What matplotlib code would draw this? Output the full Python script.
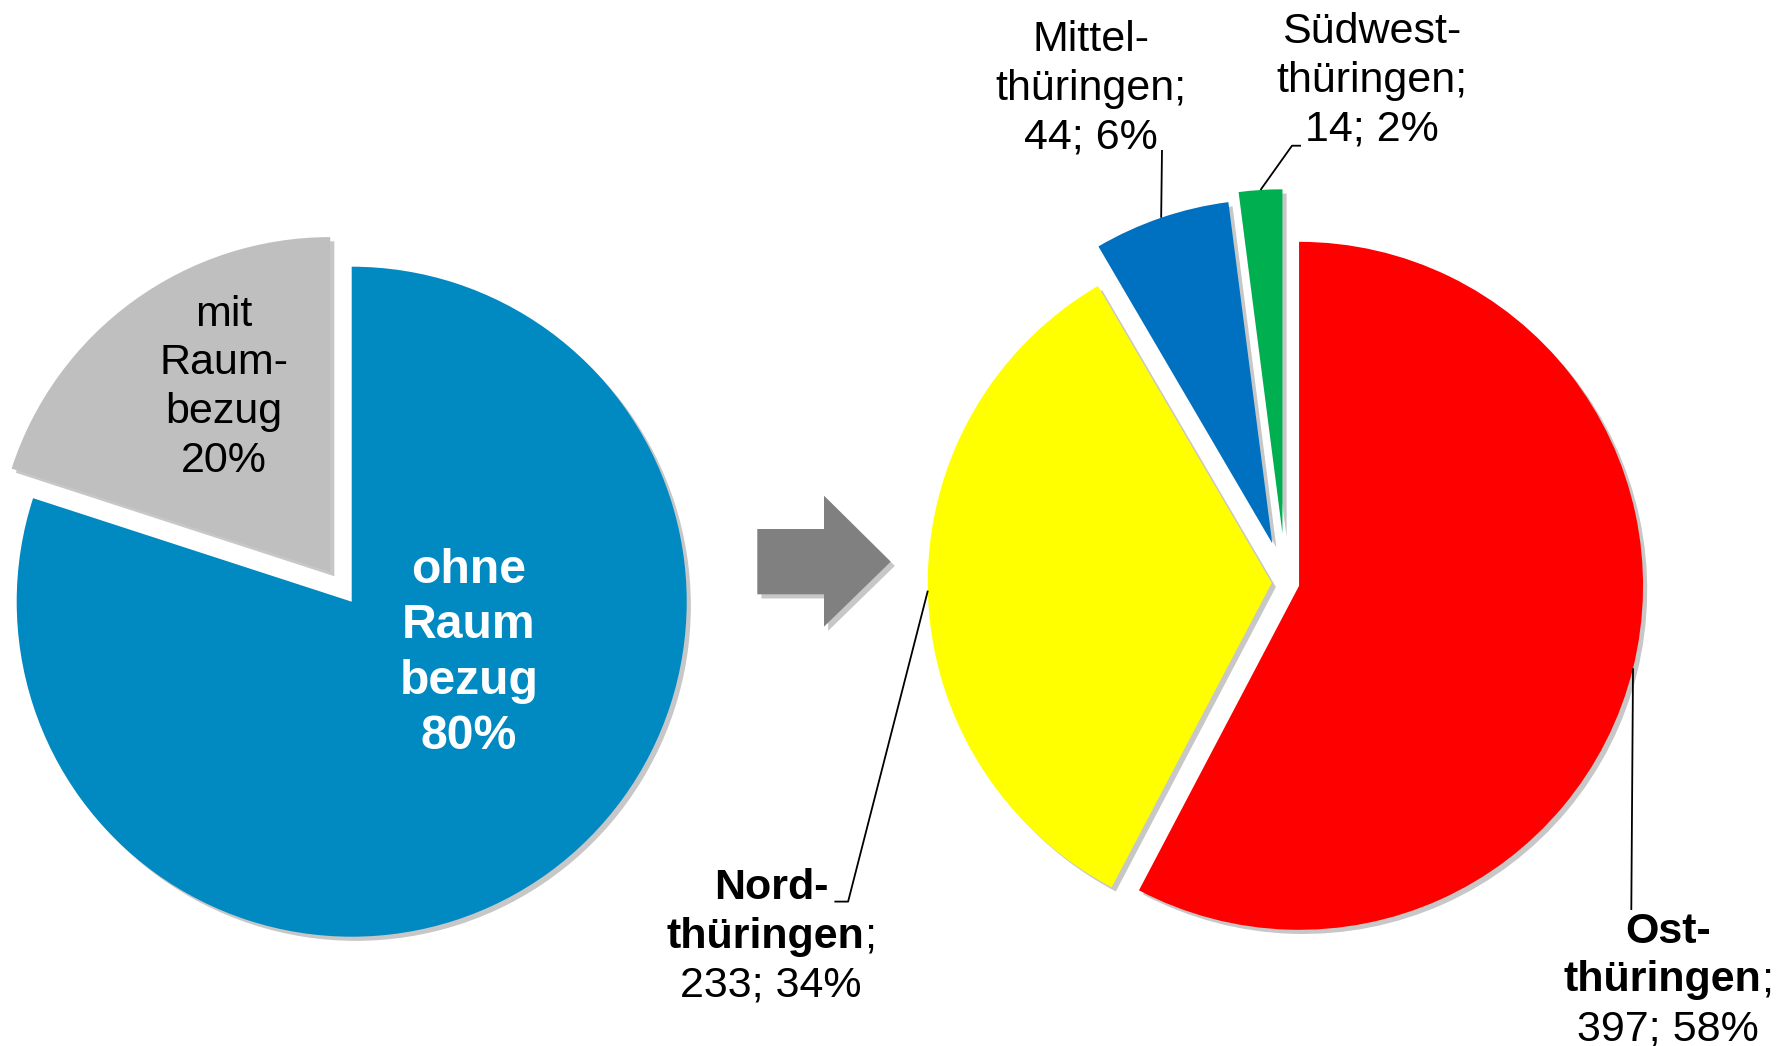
import matplotlib
matplotlib.use("Agg")
from matplotlib import pyplot as plt
import matplotlib.patheffects as pe
from matplotlib.patches import Polygon
import numpy as np

plt.rcParams['font.family'] = ['Liberation Sans', 'DejaVu Sans']

# left pie: share of records with / without spatial reference
left_names = ["ohne Raumbezug", "mit Raumbezug"]
left_pct = [80, 20]
left_colors = ["#0189C1", "#BFBFBF"]

# right pie: records with spatial reference by planning region
right_names = ["Ostthüringen", "Nordthüringen", "Mittelthüringen", "Südwestthüringen"]
right_counts = [397, 233, 44, 14]
right_colors = ["#FF0000", "#FFFF00", "#0070C0", "#00B050"]

W, H = 1785, 1046
fig = plt.figure(figsize=(W / 100, H / 100), dpi=100)
ax = fig.add_axes([0, 0, 1, 1])

shadow = [pe.SimplePatchShadow(offset=(3, -3), shadow_rgbFace="k", alpha=0.22), pe.Normal()]

# left pie
lw, _ = ax.pie(left_pct, colors=left_colors, startangle=90, counterclock=False,
               center=(351.7, H - 601.7), radius=335, explode=[0, 36.6],
               wedgeprops=dict(linewidth=0))
# right pie
rw, _ = ax.pie(right_counts, colors=right_colors, startangle=90, counterclock=False,
               center=(1285.6, H - 582.5), radius=344, explode=[13.85, 13.85, 41.4, 49.3],
               wedgeprops=dict(linewidth=0))
for w in lw + rw:
    w.set_path_effects(shadow)

ax.set_xlim(0, W)
ax.set_ylim(0, H)
ax.set_aspect("equal")
ax.axis("off")

# arrow between the pies
arrow = Polygon([(757.3, H - 529), (824, H - 529), (824, H - 495.7), (890.7, H - 561.7),
                 (824, H - 626.7), (824, H - 594.3), (757.3, H - 594.3)],
                closed=True, facecolor="#808080", edgecolor="none")
arrow.set_path_effects(shadow)
ax.add_patch(arrow)

rend = fig.canvas.get_renderer()


def line(x, y_screen, segs, size, color="black"):
    # one text line, made of (text, weight) parts, centred on x
    texts = [ax.text(0, H - y_screen, s, fontsize=size, fontweight=wt, color=color,
                     ha="left", va="baseline") for s, wt in segs]
    widths = [t.get_window_extent(rend).width for t in texts]
    x0 = x - sum(widths) / 2
    for t, wd in zip(texts, widths):
        t.set_x(x0)
        x0 += wd


def block(x, y0, rows, size, step, color="black"):
    for i, segs in enumerate(rows):
        line(x, y0 + i * step, segs, size, color)


total = sum(right_counts)
pcts = [round(100 * c / total) for c in right_counts]
fs = 31

# labels of the left pie
block(224, 325.6, [[("mit", "normal")], [("Raum-", "normal")], [("bezug", "normal")],
                   [(f"{left_pct[1]}%", "normal")]], fs, 48.9)
block(469, 583, [[("ohne", "bold")], [("Raum", "bold")], [("bezug", "bold")],
                 [(f"{left_pct[0]}%", "bold")]], 34.7, 55.3, color="white")

# labels of the right pie
block(1668, 942.6, [[("Ost-", "bold")], [("thüringen", "bold"), (";", "normal")],
                    [(f"{right_counts[0]}; {pcts[0]}%", "normal")]], fs, 48.9)
block(771, 899, [[("Nord-", "bold")], [("thüringen", "bold"), (";", "normal")],
                 [(f"{right_counts[1]}; {pcts[1]}%", "normal")]], fs, 48.9)
block(1090.6, 51, [[("Mittel-", "normal")], [("thüringen;", "normal")],
                   [(f"{right_counts[2]}; {pcts[2]}%", "normal")]], fs, 48.7)
block(1372, 43, [[("Südwest-", "normal")], [("thüringen;", "normal")],
                 [(f"{right_counts[3]}; {pcts[3]}%", "normal")]], fs, 48.7)


# leader lines, starting at the middle of each slice's outer edge
def leader(w, pts):
    tm = np.deg2rad((w.theta1 + w.theta2) / 2)
    x0 = w.center[0] + w.r * np.cos(tm)
    y0 = w.center[1] + w.r * np.sin(tm)
    xs = [x0] + [p[0] for p in pts]
    ys = [y0] + [H - p[1] for p in pts]
    ax.plot(xs, ys, color="black", lw=1.3, solid_capstyle="butt")


leader(rw[0], [(1631.3, 910)])
leader(rw[1], [(848.1, 901.6), (834.4, 901.6)])
leader(rw[2], [(1162, 150)])
leader(rw[3], [(1292, 145.7), (1301, 145.7)])

fig.savefig("out.png", dpi=100)
